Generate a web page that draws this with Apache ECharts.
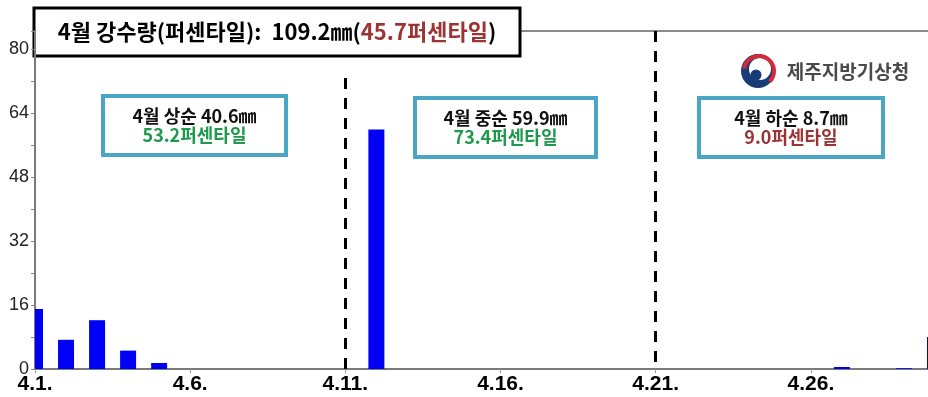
<!DOCTYPE html>
<html>
<head>
<meta charset="utf-8">
<script src="https://cdn.jsdelivr.net/npm/echarts@6/dist/echarts.min.js"></script>
<style>html,body{margin:0;padding:0;background:#fff;}#c{width:928px;height:397px;}</style>
</head>
<body>
<div id="c"></div>
<script>
const days = ["4.1.","4.2.","4.3.","4.4.","4.5.","4.6.","4.7.","4.8.","4.9.","4.10.","4.11.","4.12.","4.13.","4.14.","4.15.","4.16.","4.17.","4.18.","4.19.","4.20.","4.21.","4.22.","4.23.","4.24.","4.25.","4.26.","4.27.","4.28.","4.29.","4.30."];
const rain = [15.0,7.3,12.2,4.6,1.5,0,0,0,0,0,0,59.9,0,0,0,0,0,0,0,0,0,0,0,0,0,0,0.5,0,0.2,8.0];
const yTicks = [0,16,32,48,64,80];
const dividers = ["4.11.","4.21."];
const titleMain = "4월 강수량(퍼센타일):  109.2㎜(";
const titlePct = "45.7퍼센타일";
const periodLines = ["4월 상순 40.6㎜","4월 중순 59.9㎜","4월 하순 8.7㎜"];
const periodPct = ["53.2퍼센타일","73.4퍼센타일","9.0퍼센타일"];
const orgName = "제주지방기상청";

const KR = '"Noto Sans CJK KR","Noto Sans",sans-serif';
const chart = echarts.init(document.getElementById('c'));

function periodBox(x, y, w, h, line1, line2, color2) {
  return {
    type: 'group', z: 100,
    children: [
      {type:'rect', shape:{x:x, y:y, width:w, height:h}, style:{fill:'#fff', stroke:'#4aa6c2', lineWidth:4}},
      {type:'text', style:{text:line1, x:x+w/2, y:y+20, align:'center', verticalAlign:'middle', font:'bold 18px '+KR, fill:'#111'}},
      {type:'text', style:{text:line2, x:x+w/2, y:y+39, align:'center', verticalAlign:'middle', font:'bold 18px '+KR, fill:color2}}
    ]
  };
}

const BAR_W = 16;
function renderBar(params, api) {
  const v = api.value(1);
  if (!v) return null;
  const top = api.coord([api.value(0), v]);
  const base = api.coord([api.value(0), 0]);
  const cs = params.coordSys;
  let x0 = Math.max(top[0] - BAR_W / 2, cs.x);
  let x1 = Math.min(top[0] + BAR_W / 2, cs.x + cs.width);
  if (x1 <= x0) return null;
  return {type: 'rect', shape: {x: x0, y: top[1], width: x1 - x0, height: base[1] - top[1]},
          style: {fill: '#0000f5'}};
}

chart.setOption({
  animation: false,
  grid: {left: 35, top: 31, height: 338, width: 900, outerBoundsMode: 'none', containLabel: false,
         show: true, borderColor: '#8a8a8a', borderWidth: 2},
  xAxis: {
    type: 'category', data: days, boundaryGap: false,
    axisLine: {lineStyle: {color: '#7a7a7a', width: 2}},
    axisTick: {interval: 4, length: 4, lineStyle: {color: '#999'}},
    axisLabel: {interval: 4, margin: 5, color: '#000', fontSize: 21, fontWeight: 'bold', fontFamily: 'Liberation Sans, Arial, sans-serif'},
    splitLine: {show: false}
  },
  yAxis: {
    type: 'value', min: 0, max: 84.5, interval: 8,
    axisLine: {show: true, lineStyle: {color: '#7a7a7a', width: 2}},
    axisTick: {show: true, length: 4, lineStyle: {color: '#888'}},
    axisLabel: {margin: 6, color: '#222', fontSize: 18, fontFamily: 'Liberation Sans, Arial, sans-serif',
      formatter: v => yTicks.indexOf(v) >= 0 ? String(v) : ''},
    splitLine: {show: false}
  },
  series: [{
    type: 'custom', renderItem: renderBar,
    data: rain.map((v, i) => [i, v]),
    encode: {x: 0, y: 1},
    markLine: {
      silent: true, symbol: 'none', label: {show: false},
      lineStyle: {color: '#000', width: 3, type: [11, 9]},
      data: [
        [{coord: [dividers[0], 72.75]}, {coord: [dividers[0], 0]}],
        [{coord: [dividers[1], 84.5]}, {coord: [dividers[1], 0]}]
      ]
    }
  }],
  graphic: [
    {type:'group', z: 100, children: [
      {type:'rect', shape:{x:34, y:8, width:486, height:48}, style:{fill:'#fff', stroke:'#000', lineWidth:3}},
      {type:'text', style:{
        x: 277, y: 32, align:'center', verticalAlign:'middle',
        text: '{a|' + titleMain + '}{b|' + titlePct + '}{a|)}',
        rich: {
          a: {font: 'bold 22px ' + KR, fill: '#000'},
          b: {font: 'bold 22px ' + KR, fill: '#9b3434'}
        }
      }}
    ]},
    periodBox(103, 96, 183, 59, periodLines[0], periodPct[0], '#1f9a4c'),
    periodBox(415, 98, 181, 59, periodLines[1], periodPct[1], '#1f9a4c'),
    periodBox(699, 98, 184, 59, periodLines[2], periodPct[2], '#9b3434'),
    {type:'group', z: 100, children: [
      {type:'circle', shape:{cx:758, cy:71, r:17}, style:{fill:'#173c78'}},
      {type:'circle', shape:{cx:760, cy:69, r:11}, style:{fill:'#fff'}},
      {type:'arc', shape:{cx:759, cy:71, r:15, startAngle: -Math.PI*0.95, endAngle: Math.PI*0.25}, style:{stroke:'#d42a3c', lineWidth:4, fill:null}},
      {type:'circle', shape:{cx:756, cy:75, r:5.5}, style:{fill:'#173c78'}},
      {type:'text', style:{text: orgName, x:848, y:72, align:'center', verticalAlign:'middle', font:'bold 19px ' + KR, fill:'#4a4a4a'}}
    ]}
  ]
});
</script>
</body>
</html>
